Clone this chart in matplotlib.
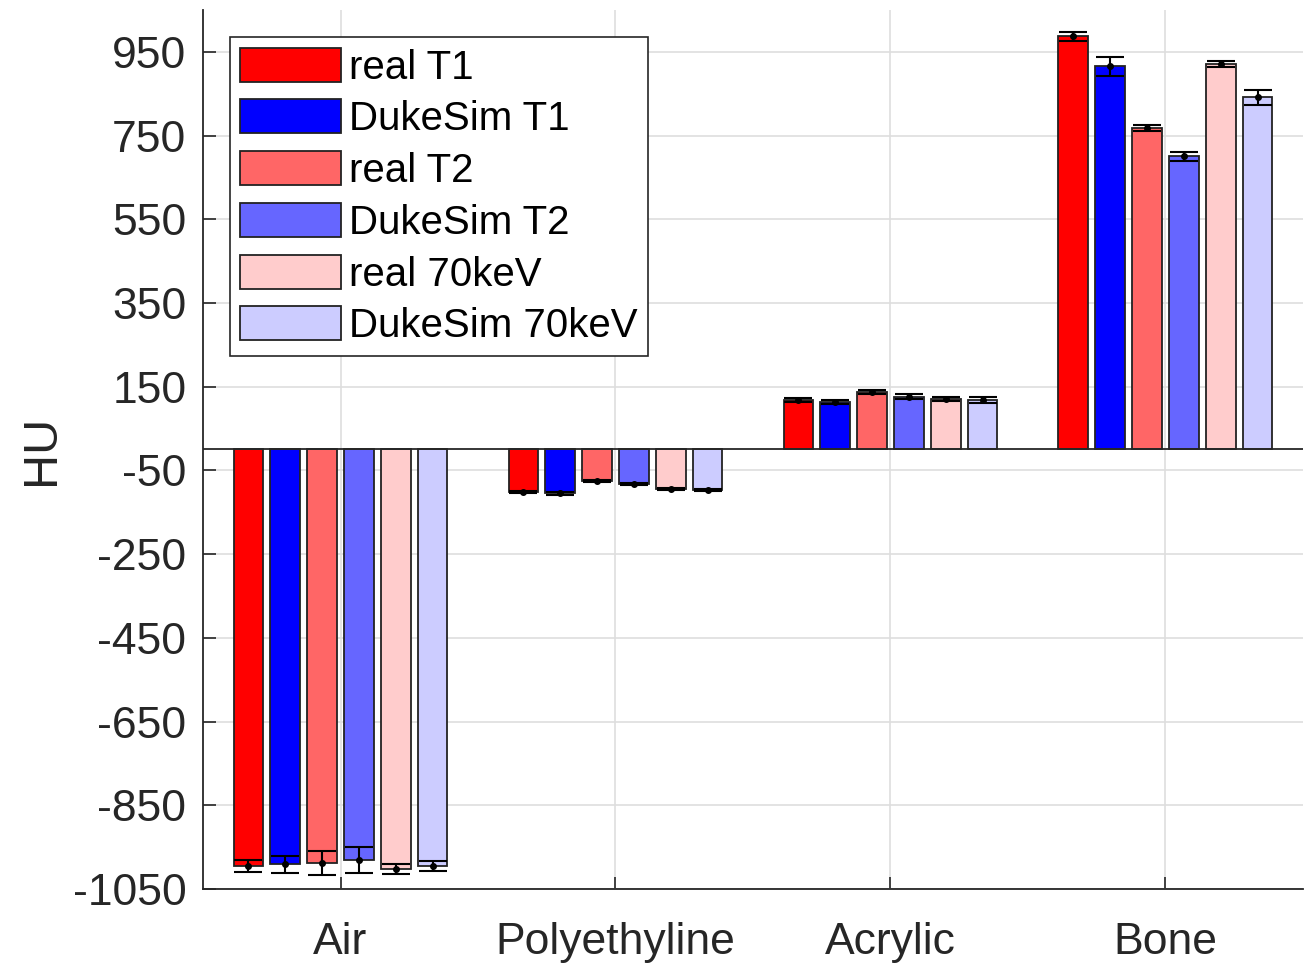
import matplotlib
matplotlib.use("Agg")
import matplotlib.pyplot as plt
import numpy as np

materials = ["Air", "Polyethyline", "Acrylic", "Bone"]
series_labels = ["real T1", "DukeSim T1", "real T2", "DukeSim T2", "real 70keV", "DukeSim 70keV"]

real_t1 = [-995, -102, 118, 987]
duke_t1 = [-991, -105, 114, 915]
real_t2 = [-988, -75, 137, 767]
duke_t2 = [-980, -82, 126, 700]
real_70 = [-1003, -94, 121, 921]
duke_70 = [-995, -97, 118, 841]

err_real_t1 = [15, 3, 5, 10]
err_duke_t1 = [20, 3, 5, 22]
err_real_t2 = [28, 3, 5, 7]
err_duke_t2 = [31, 3, 6, 10]
err_real_70 = [12, 3, 5, 8]
err_duke_70 = [13, 3, 7, 18]

values = [real_t1, duke_t1, real_t2, duke_t2, real_70, duke_70]
errors = [err_real_t1, err_duke_t1, err_real_t2, err_duke_t2, err_real_70, err_duke_70]
colors = [(1, 0, 0), (0, 0, 1), (1, 0.4, 0.4), (0.4, 0.4, 1), (1, 0.8, 0.8), (0.8, 0.8, 1)]

yticks = [-1050, -850, -650, -450, -250, -50, 150, 350, 550, 750, 950]

plt.rcParams["font.family"] = ["Liberation Sans", "DejaVu Sans"]
plt.rcParams["axes.unicode_minus"] = False
axis_color = "#262626"

fig = plt.figure(figsize=(13.14, 9.67), dpi=100)
ax = fig.add_axes([0.1545, 0.0807, 0.8371, 0.909])

x = np.arange(1, len(materials) + 1)
pitch = 0.134
width = 0.108
for i, (vals, errs, col, lab) in enumerate(zip(values, errors, colors, series_labels)):
    pos = x + (i - 2.5) * pitch
    ax.bar(pos, vals, width=width, color=col, edgecolor="#222222", linewidth=1.3,
           label=lab, zorder=2)
    ax.errorbar(pos, vals, yerr=errs, fmt=".", color="black", markersize=8,
                capsize=10, elinewidth=1.5, capthick=1.5, zorder=3)

ax.axhline(0, color="#262626", linewidth=1.3, zorder=2.5)

ax.set_xlim(0.5, 4.5)
ax.set_ylim(-1050, 1050)
ax.set_xticks(x)
ax.set_xticklabels(materials)
ax.set_yticks(yticks)
ax.set_ylabel("HU", fontsize=35, color=axis_color, labelpad=6)
ax.tick_params(direction="in", length=9, width=1.2, labelsize=32, colors=axis_color, pad=12)
ax.tick_params(axis="x", pad=24)
ax.grid(True, color="#dedede", linewidth=1.2, zorder=0)
ax.set_axisbelow(True)
for side in ["top", "right"]:
    ax.spines[side].set_visible(False)
for side in ["left", "bottom"]:
    ax.spines[side].set_color(axis_color)
    ax.spines[side].set_linewidth(1.3)

leg = ax.legend(loc="upper left", bbox_to_anchor=(0.0245, 0.969), fontsize=29,
                handlelength=2.5, handleheight=0.92, handletextpad=0.2,
                labelspacing=0.32, borderpad=0.26, borderaxespad=0,
                fancybox=False, framealpha=1, edgecolor=axis_color)
leg.get_frame().set_linewidth(1.2)

fig.savefig("out.png", dpi=100)
